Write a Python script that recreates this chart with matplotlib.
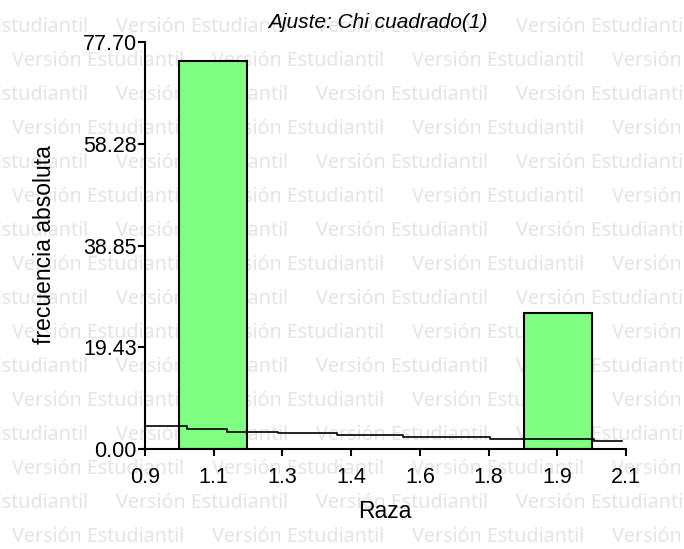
import numpy as np
import matplotlib
matplotlib.use('Agg')
import matplotlib.pyplot as plt

# datos
razas = [1.07, 1.93]          # centro de cada barra
frecuencias = [74, 26]
ancho_barra = 0.17

# curva de ajuste (chi cuadrado), escalones
ajuste_x = [0.9, 1.005, 1.105, 1.232, 1.379, 1.544, 1.761, 2.020, 2.090]
ajuste_y = [4.39, 3.76, 3.34, 3.00, 2.58, 2.20, 1.85, 1.47, 1.47]

x_tick_labels = ['0.9', '1.1', '1.3', '1.4', '1.6', '1.8', '1.9', '2.1']
y_ticks = [0.00, 19.43, 38.85, 58.28, 77.70]

W, H = 684, 549
fig = plt.figure(figsize=(W / 100, H / 100), dpi=100)

# marca de agua: ajustar tamano para que el texto mida ~173 px
marca = 'Versión Estudiantil'
t = fig.text(0, 0, marca, family='Noto Sans', fontsize=14)
ancho = t.get_window_extent(renderer=fig.canvas.get_renderer()).width
t.remove()
fs_marca = 14 * 173 / ancho

for k in range(-1, 17):
    y = 27 + 34 * k
    x0 = 116 if k % 2 == 0 else 12
    for j in range(-1, 4):
        fig.text((x0 + 200 * j) / W, 1 - y / H, marca,
                 family='Noto Sans', fontsize=fs_marca, color='#e4e4e4',
                 ha='left', va='center', zorder=-1)

ax = fig.add_axes([145 / W, 1 - 449 / H, 481 / W, 407 / H])
ax.patch.set_alpha(0)

ax.bar(razas, frecuencias, width=ancho_barra, color='#80ff80',
       edgecolor='black', linewidth=1.5, zorder=2)
ax.step(ajuste_x, ajuste_y, where='post', color='black', lw=1.2, zorder=3)

ax.set_xlim(0.9, 2.1)
ax.set_ylim(0, 77.70)
ax.set_xticks(np.linspace(0.9, 2.1, len(x_tick_labels)))
ax.set_xticklabels(x_tick_labels)
ax.set_yticks(y_ticks)
ax.set_yticklabels([f'{v:.2f}' for v in y_ticks])

for s in ['top', 'right']:
    ax.spines[s].set_visible(False)
for s in ['left', 'bottom']:
    ax.spines[s].set_linewidth(1.5)

ax.tick_params(axis='both', length=5, width=1.5, labelsize=15.5, colors='black')
ax.tick_params(axis='x', pad=8)
ax.tick_params(axis='y', pad=1)
for lbl in ax.get_xticklabels() + ax.get_yticklabels():
    lbl.set_family('Liberation Sans')

fig.text(378 / W, 1 - 28 / H, 'Ajuste: Chi cuadrado(1)', family='Liberation Sans',
         style='italic', fontsize=15, ha='center', va='baseline')
fig.text(385 / W, 1 - 518 / H, 'Raza', family='Liberation Sans',
         fontsize=16.5, ha='center', va='baseline')
fig.text(45 / W, 1 - 245 / H, 'frecuencia absoluta', family='Liberation Sans',
         fontsize=16.5, rotation=90, ha='center', va='center')

fig.savefig('out.png', dpi=100)
